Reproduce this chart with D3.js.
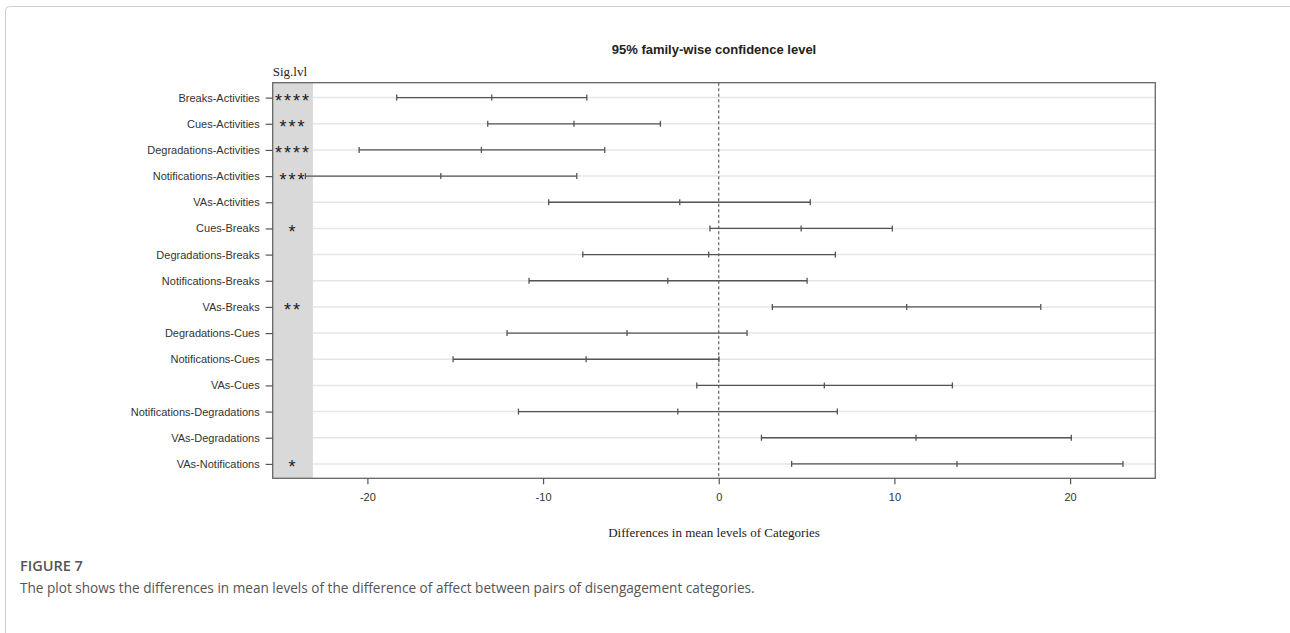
<!DOCTYPE html>
<html lang="en">

<head>
  <meta charset="UTF-8">
  <script src="https://cdnjs.cloudflare.com/ajax/libs/d3/7.8.5/d3.min.js"></script>
  <title>Tukey HSD intervals</title>
  <style>
    body { margin: 0; background: #fff; }
  </style>
</head>

<body>
  <div id="chart"></div>
  <script>
    // pairwise comparisons, top to bottom
    const comparisons = [
      'Breaks-Activities', 'Cues-Activities', 'Degradations-Activities',
      'Notifications-Activities', 'VAs-Activities', 'Cues-Breaks',
      'Degradations-Breaks', 'Notifications-Breaks', 'VAs-Breaks',
      'Degradations-Cues', 'Notifications-Cues', 'VAs-Cues',
      'Notifications-Degradations', 'VAs-Degradations', 'VAs-Notifications'
    ];
    const diffs = [-12.92, -8.24, -13.51, -15.82, -2.22, 4.69, -0.57, -2.90, 10.70, -5.22, -7.55, 6.01, -2.33, 11.23, 13.56];
    const lower = [-18.33, -13.15, -20.47, -23.53, -9.68, -0.50, -7.74, -10.80, 3.05, -12.05, -15.12, -1.25, -11.40, 2.43, 4.15];
    const upper = [-7.51, -3.32, -6.49, -8.08, 5.21, 9.88, 6.64, 5.03, 18.33, 1.61, 0.01, 13.30, 6.75, 20.07, 23.01];
    const sigLevels = ['****', '***', '****', '***', '', '*', '', '', '**', '', '', '', '', '', '*'];
    const xTicks = [-20, -10, 0, 10, 20];

    const data = comparisons.map((name, i) => ({
      name, i, diff: diffs[i], lwr: lower[i], upr: upper[i], sig: sigLevels[i]
    }));

    const W = 1290, H = 633;
    const box = { left: 272.7, right: 1155.3, top: 82.7, bottom: 478.3 };

    const svg = d3.select('#chart')
      .append('svg')
      .attr('width', W)
      .attr('height', H);

    // card frame
    svg.append('rect')
      .attr('x', 5.5).attr('y', 6.5)
      .attr('width', 1400).attr('height', 800)
      .attr('rx', 4)
      .attr('fill', 'none')
      .attr('stroke', '#cfcfcf');

    const x = d3.scaleLinear()
      .domain([-25.39, 24.85])
      .range([box.left, box.right]);

    const y = d3.scaleLinear()
      .domain([-0.57, 14.55])
      .range([box.top, box.bottom]);

    // significance strip
    svg.append('rect')
      .attr('x', box.left)
      .attr('y', box.top)
      .attr('width', x(-23.1) - box.left)
      .attr('height', box.bottom - box.top)
      .attr('fill', '#d9d9d9');

    // horizontal grid lines
    svg.append('g')
      .selectAll('line')
      .data(data)
      .join('line')
      .attr('x1', x(-23.1))
      .attr('x2', box.right)
      .attr('y1', d => y(d.i))
      .attr('y2', d => y(d.i))
      .attr('stroke', '#e6e6e6')
      .attr('stroke-width', 1.5);

    // zero reference
    svg.append('line')
      .attr('x1', x(0)).attr('x2', x(0))
      .attr('y1', box.top).attr('y2', box.bottom)
      .attr('stroke', '#555')
      .attr('stroke-width', 1.1)
      .attr('stroke-dasharray', '3,2.5');

    // intervals
    const iv = svg.append('g')
      .selectAll('g')
      .data(data)
      .join('g')
      .attr('transform', d => `translate(0, ${y(d.i)})`)
      .attr('stroke', '#555')
      .attr('stroke-width', 1.3);

    iv.append('line')
      .attr('x1', d => x(d.lwr))
      .attr('x2', d => x(d.upr));

    ['lwr', 'diff', 'upr'].forEach(k => {
      iv.append('line')
        .attr('x1', d => x(d[k]))
        .attr('x2', d => x(d[k]))
        .attr('y1', -3)
        .attr('y2', 3);
    });

    // stars
    svg.append('g')
      .selectAll('text')
      .data(data.filter(d => d.sig))
      .join('text')
      .attr('x', 293)
      .attr('y', d => y(d.i) + 9.5)
      .attr('text-anchor', 'middle')
      .style('font-family', '"Liberation Sans", Arial, sans-serif')
      .style('font-size', '18px')
      .style('letter-spacing', '2px')
      .style('fill', '#1a1a1a')
      .text(d => d.sig);

    // plot box
    svg.append('rect')
      .attr('x', box.left)
      .attr('y', box.top)
      .attr('width', box.right - box.left)
      .attr('height', box.bottom - box.top)
      .attr('fill', 'none')
      .attr('stroke', '#666')
      .attr('stroke-width', 1.3);

    // axes
    const yAxis = svg.append('g')
      .attr('transform', `translate(${box.left}, 0)`)
      .call(d3.axisLeft(y).tickValues(d3.range(comparisons.length))
        .tickFormat(i => comparisons[i]).tickSize(7).tickPadding(6));

    const xAxis = svg.append('g')
      .attr('transform', `translate(0, ${box.bottom})`)
      .call(d3.axisBottom(x).tickValues(xTicks).tickSize(6).tickPadding(9)
        .tickFormat(d => String(d)));

    [xAxis, yAxis].forEach(a => {
      a.select('.domain').remove();
      a.selectAll('line').attr('stroke', '#555').attr('stroke-width', 1.2);
      a.selectAll('text')
        .style('font-family', '"Liberation Sans", Arial, sans-serif')
        .style('font-size', '11px')
        .style('fill', '#333');
    });

    // titles
    svg.append('text')
      .attr('x', (box.left + box.right) / 2)
      .attr('y', 54)
      .attr('text-anchor', 'middle')
      .style('font-family', '"Liberation Sans", Arial, sans-serif')
      .style('font-weight', 'bold')
      .style('font-size', '13px')
      .style('fill', '#222')
      .text('95% family-wise confidence level');

    svg.append('text')
      .attr('x', box.left)
      .attr('y', 76)
      .style('font-family', '"Liberation Serif", "Times New Roman", serif')
      .style('font-size', '13px')
      .style('fill', '#222')
      .text('Sig.lvl');

    svg.append('text')
      .attr('x', (box.left + box.right) / 2)
      .attr('y', 537)
      .attr('text-anchor', 'middle')
      .style('font-family', '"Liberation Serif", "Times New Roman", serif')
      .style('font-size', '13px')
      .style('fill', '#222')
      .text('Differences in mean levels of Categories');

    // caption
    svg.append('text')
      .attr('x', 20)
      .attr('y', 571)
      .style('font-family', '"Open Sans", sans-serif')
      .style('font-weight', '600')
      .style('font-size', '14.5px')
      .style('fill', '#555')
      .text('FIGURE 7');

    svg.append('text')
      .attr('x', 20)
      .attr('y', 593)
      .style('font-family', '"Open Sans", sans-serif')
      .style('font-size', '13.6px')
      .style('fill', '#555')
      .text('The plot shows the differences in mean levels of the difference of affect between pairs of disengagement categories.');
  </script>
</body>

</html>
